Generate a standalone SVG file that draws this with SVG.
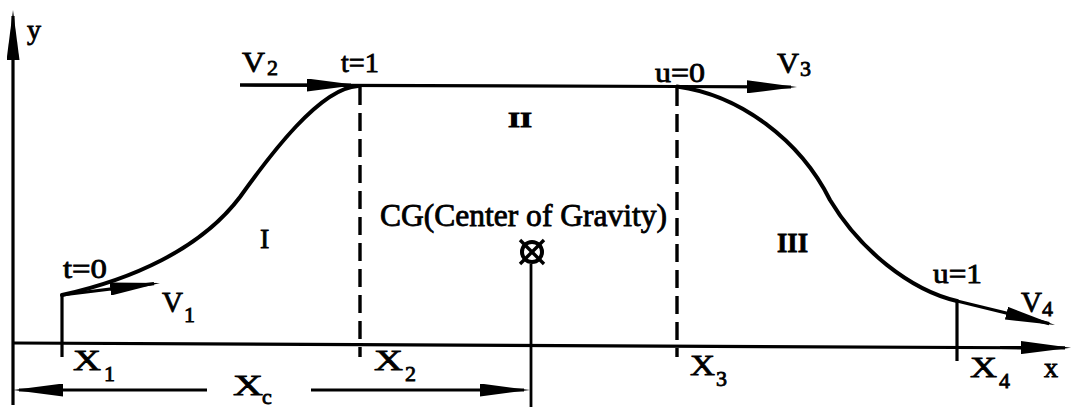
<svg xmlns="http://www.w3.org/2000/svg" width="1073" height="407" viewBox="0 0 1073 407">
<defs>
<style>
.ln{stroke:#000;stroke-width:3.2;fill:none}
.cv{stroke:#000;stroke-width:4;fill:none;stroke-linecap:round}
.ds{stroke:#000;stroke-width:3.4;fill:none;stroke-dasharray:18 8}
.ar{stroke:#000;stroke-width:3.2;fill:none;marker-end:url(#ah)}
text{font-family:"Liberation Serif","Times New Roman",serif;fill:#000;stroke:#000;stroke-width:0.8}
.m{font-size:28px}
.b{font-size:30px}
.s{font-size:22px}
</style>
<marker id="ah" markerUnits="userSpaceOnUse" viewBox="0 0 50 13" markerWidth="50" markerHeight="13" refX="44" refY="6.5" orient="auto">
<path d="M0,0 L50,6.5 L0,13 Z" fill="#000"/>
</marker>
</defs>
<rect width="1073" height="407" fill="#fff"/>

<g id="axes">
<line class="ln" x1="13" y1="405" x2="13" y2="40"/>
<line class="ln" x1="13" y1="343" x2="1030" y2="347.8"/>
</g>

<g id="curve">
<path class="cv" d="M62,295 C130,280 200,250 240,197 C270,155 320,88 358,86"/>
<line class="ln" x1="240" y1="85" x2="680" y2="86.5"/>
<path class="cv" d="M677,86.5 C740,95 800,140 830,200 C860,250 910,290 957,301"/>
</g>

<g id="guides">
<line class="ds" x1="360" y1="87" x2="360" y2="357"/>
<line class="ds" x1="677" y1="88" x2="677" y2="357"/>
<line class="ln" x1="62" y1="295" x2="62" y2="357"/>
<line class="ln" x1="957" y1="301" x2="957" y2="361"/>
</g>

<g id="cg">
<line class="ln" x1="531" y1="264" x2="531" y2="407" style="stroke-width:2.8"/>
<circle cx="532" cy="252" r="10" fill="none" stroke="#000" stroke-width="4"/>
<line x1="520" y1="240" x2="544" y2="264" stroke="#000" stroke-width="3.4"/>
<line x1="544" y1="240" x2="520" y2="264" stroke="#000" stroke-width="3.4"/>
</g>

<g id="connectors">
<line class="ar" x1="13" y1="60" x2="13" y2="16"/>
<line class="ar" x1="1000" y1="347.5" x2="1065" y2="347.8"/>
<line class="ar" x1="240" y1="85" x2="351" y2="85"/>
<line class="ar" x1="677" y1="86.5" x2="791" y2="87"/>
<line class="ar" x1="62" y1="295" x2="154" y2="283.7"/>
<line class="ar" x1="957" y1="301" x2="1049.2" y2="323.6"/>
<line class="ar" x1="207" y1="390" x2="19" y2="390"/>
<line class="ar" x1="311" y1="390" x2="524" y2="390"/>
</g>

<g id="labels">
<text class="m" x="27" y="39">y</text>
<text><tspan class="b" x="242" y="72" textLength="23" lengthAdjust="spacingAndGlyphs">V</tspan><tspan class="s" x="267" y="75">2</tspan></text>
<text class="m" x="341" y="72" textLength="38" lengthAdjust="spacingAndGlyphs">t=1</text>
<text class="m" x="655" y="82" textLength="50" lengthAdjust="spacingAndGlyphs">u=0</text>
<text><tspan class="b" x="777" y="73" textLength="22" lengthAdjust="spacingAndGlyphs">V</tspan><tspan class="s" x="800" y="76">3</tspan></text>
<text x="508" y="127" style="font-size:21px;font-weight:bold" textLength="24" lengthAdjust="spacingAndGlyphs">II</text>
<text class="m" x="260" y="248">I</text>
<text x="380" y="226" style="font-size:31px" textLength="287" lengthAdjust="spacingAndGlyphs">CG(Center of Gravity)</text>
<text class="m" x="777" y="252" style="font-weight:bold" textLength="31" lengthAdjust="spacingAndGlyphs">III</text>
<text class="m" x="63" y="278" textLength="44" lengthAdjust="spacingAndGlyphs">t=0</text>
<text><tspan class="b" x="162" y="312" textLength="21" lengthAdjust="spacingAndGlyphs">V</tspan><tspan class="s" x="184" y="322">1</tspan></text>
<text class="m" x="933" y="283" textLength="49" lengthAdjust="spacingAndGlyphs">u=1</text>
<text><tspan class="b" x="1021" y="312" textLength="21" lengthAdjust="spacingAndGlyphs">V</tspan><tspan class="s" x="1042" y="316">4</tspan></text>
<text><tspan class="b" x="73" y="370" textLength="28" lengthAdjust="spacingAndGlyphs">X</tspan><tspan class="s" x="104" y="381">1</tspan></text>
<text><tspan class="b" x="374" y="370" textLength="29" lengthAdjust="spacingAndGlyphs">X</tspan><tspan class="s" x="405" y="381">2</tspan></text>
<text><tspan class="b" x="690" y="375" textLength="25" lengthAdjust="spacingAndGlyphs">X</tspan><tspan class="s" x="716" y="386">3</tspan></text>
<text><tspan class="b" x="970" y="377" textLength="27" lengthAdjust="spacingAndGlyphs">X</tspan><tspan class="s" x="999" y="388">4</tspan></text>
<text class="m" x="1044" y="377">x</text>
<text><tspan class="b" x="233" y="395" textLength="30" lengthAdjust="spacingAndGlyphs">X</tspan><tspan class="s" x="262" y="404">c</tspan></text>
</g>
</svg>
